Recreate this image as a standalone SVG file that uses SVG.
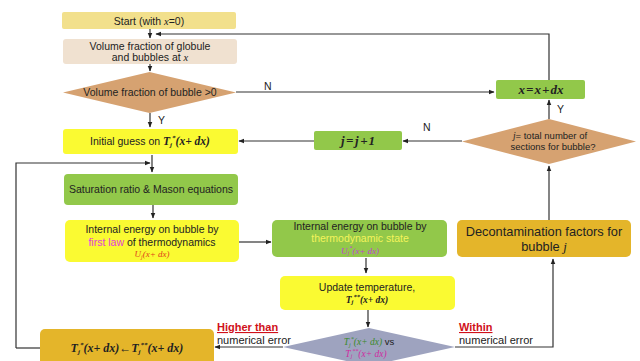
<svg xmlns="http://www.w3.org/2000/svg" width="640" height="361" viewBox="0 0 640 361">
<defs>
<marker id="ah" viewBox="0 0 10 10" refX="9" refY="5" markerWidth="5" markerHeight="5" orient="auto-start-reverse">
<path d="M0,1 L10,5 L0,9 z" fill="#222"/>
</marker>
<style>
text{font-family:"Liberation Sans","DejaVu Sans",sans-serif;font-size:10.5px;fill:#222}
.t{text-anchor:middle}
.m{font-family:"Liberation Serif","DejaVu Serif",serif;font-style:italic}
.c{stroke:#333;stroke-width:1.2;fill:none}
.a{marker-end:url(#ah)}
.red{font-size:11px;font-weight:bold;fill:#d0101a;text-decoration:underline}
</style>
</defs>
<rect width="640" height="361" fill="#ffffff"/>

<g id="connectors">
<path class="c a" d="M150,29 V38"/>
<path class="c a" d="M150,64 V71"/>
<path class="c a" d="M150,113 V127"/>
<path class="c a" d="M152,155 V172"/>
<path class="c a" d="M16,348 V163 H150"/>
<path class="c" d="M16,348 H40"/>
<path class="c a" d="M153,205 V218"/>
<path class="c a" d="M239,242 H271"/>
<path class="c a" d="M366,258 V273"/>
<path class="c a" d="M368,310 V327"/>
<path class="c a" d="M283,347 H215"/>
<path class="c a" d="M455,347 H553 V259"/>
<path class="c a" d="M549,220 V166"/>
<path class="c a" d="M549,119 V100"/>
<path class="c a" d="M549,80 V34 H156"/>
<path class="c a" d="M236,92 H494"/>
<path class="c a" d="M462,141 H403"/>
<path class="c a" d="M314,141 H239"/>
<text x="158" y="124">Y</text>
<text x="264" y="90">N</text>
<text x="423" y="131">N</text>
<text x="557" y="113">Y</text>
<text class="red" x="217" y="331">Higher than</text>
<text x="217" y="344" style="font-size:11px">numerical error</text>
<text class="red" x="459" y="331">Within</text>
<text x="459" y="344" style="font-size:11px">numerical error</text>
</g>

<g id="start">
<rect x="62" y="12" width="174" height="17" rx="2" fill="#f2e08c"/>
<text class="t" x="149" y="24.5">Start (with <tspan class="m">x</tspan>=0)</text>
</g>

<g id="volume">
<rect x="63" y="39" width="174" height="25" rx="3" fill="#f0e1d0"/>
<text class="t" x="150" y="50">Volume fraction of globule</text>
<text class="t" x="150" y="61">and bubbles at <tspan class="m">x</tspan></text>
</g>

<g id="dec1">
<polygon points="63,92.5 149.5,72 236,92.5 149.5,113" fill="#d6a271"/>
<text class="t" x="150" y="96">Volume fraction of bubble &gt;0</text>
</g>

<g id="guess">
<rect x="63" y="129" width="175" height="25" rx="3" fill="#fafa32"/>
<text class="t" x="150" y="145">Initial guess on <tspan class="m" style="font-weight:bold;font-size:11.5px">T</tspan><tspan class="m" style="font-size:7px;font-weight:bold" dy="2">j</tspan><tspan class="m" style="font-size:7px;font-weight:bold" dy="-7">*</tspan><tspan class="m" style="font-size:11.5px;font-weight:bold" dy="5">(x+ dx)</tspan></text>
</g>

<g id="saturation">
<rect x="64" y="174" width="174" height="31" rx="4" fill="#92c84a"/>
<text class="t" x="151" y="193">Saturation ratio &amp; Mason equations</text>
</g>

<g id="firstlaw">
<rect x="65" y="220" width="174" height="42" rx="5" fill="#fafa32"/>
<text class="t" x="152" y="233">Internal energy on bubble by</text>
<text class="t" x="152" y="246"><tspan style="fill:#e040d8">first law</tspan> of thermodynamics</text>
<text class="t m" x="152" y="257" style="font-size:9px;fill:#e0401a">U<tspan style="font-size:6px" dy="1.5">j</tspan><tspan dy="-1.5">(x+ dx)</tspan></text>
</g>

<g id="thermostate">
<rect x="272" y="220" width="175" height="37" rx="5" fill="#92c84a"/>
<text class="t" x="360" y="230">Internal energy on bubble by</text>
<text class="t" x="360" y="242" style="fill:#f4f45a">thermodynamic state</text>
<text class="t m" x="360" y="253.5" style="font-size:9px;fill:#c040d8">U<tspan style="font-size:6px" dy="1.5">j</tspan><tspan style="font-size:6px" dy="-5.5">*</tspan><tspan dy="4">(x+ dx)</tspan></text>
</g>

<g id="update">
<rect x="280" y="276" width="175" height="34" rx="5" fill="#fafa32"/>
<text class="t" x="367" y="291">Update temperature,</text>
<text class="t m" x="367" y="302.5" style="font-weight:bold;font-size:9.5px">T<tspan style="font-size:6.5px" dy="1.5">j</tspan><tspan style="font-size:6.5px" dy="-5.5">**</tspan><tspan dy="4">(x+ dx)</tspan></text>
</g>

<g id="compare">
<polygon points="283,347 369,328 455,347 369,366" fill="#9ea3bf"/>
<text class="t m" x="369" y="345" style="font-size:9.5px;fill:#3a8a2a">T<tspan style="font-size:6px" dy="1.5">j</tspan><tspan style="font-size:6px" dy="-5.5">*</tspan><tspan dy="4">(x+ dx)</tspan><tspan style="font-style:normal;font-family:'Liberation Sans',sans-serif;fill:#222"> vs</tspan></text>
<text class="t m" x="366" y="356.5" style="font-size:9.5px;fill:#d02aa0">T<tspan style="font-size:6px" dy="1.5">j</tspan><tspan style="font-size:6px" dy="-5.5">**</tspan><tspan dy="4">(x+ dx)</tspan></text>
</g>

<g id="assign">
<rect x="40" y="329" width="174" height="40" rx="5" fill="#e4b52a"/>
<text class="t m" x="127" y="352" style="font-size:12px;font-weight:bold">T<tspan style="font-size:7px" dy="2">j</tspan><tspan style="font-size:7px" dy="-7">*</tspan><tspan dy="5">(x+ dx)←T</tspan><tspan style="font-size:7px" dy="2">j</tspan><tspan style="font-size:7px" dy="-7">**</tspan><tspan dy="5">(x+ dx)</tspan></text>
</g>

<g id="decontam">
<rect x="457" y="220" width="174" height="37" rx="5" fill="#e4b52a"/>
<text class="t" x="544" y="236" style="font-size:12.8px">Decontamination factors for</text>
<text class="t" x="544" y="251" style="font-size:12.8px">bubble <tspan class="m">j</tspan></text>
</g>

<g id="dec2">
<polygon points="462,141.5 549,119 636,141.5 549,164" fill="#d6a271"/>
<text class="t" x="550" y="139" style="font-size:9.5px"><tspan class="m">j</tspan>= total number of</text>
<text class="t" x="553" y="150" style="font-size:9.5px">sections for bubble?</text>
</g>

<g id="xinc">
<rect x="496" y="80" width="89" height="19" rx="2" fill="#92c84a"/>
<text class="t m" x="541" y="94" style="font-size:13px;font-weight:bold">x<tspan dx="1">=</tspan><tspan dx="1">x</tspan><tspan dx="1">+</tspan><tspan dx="1">dx</tspan></text>
</g>

<g id="jinc">
<rect x="314" y="131" width="88" height="19" rx="2" fill="#92c84a"/>
<text class="t m" x="358" y="145" style="font-size:13px;font-weight:bold">j<tspan dx="1.5">=</tspan><tspan dx="1.5">j</tspan><tspan dx="1.5">+</tspan><tspan dx="1">1</tspan></text>
</g>
</svg>
